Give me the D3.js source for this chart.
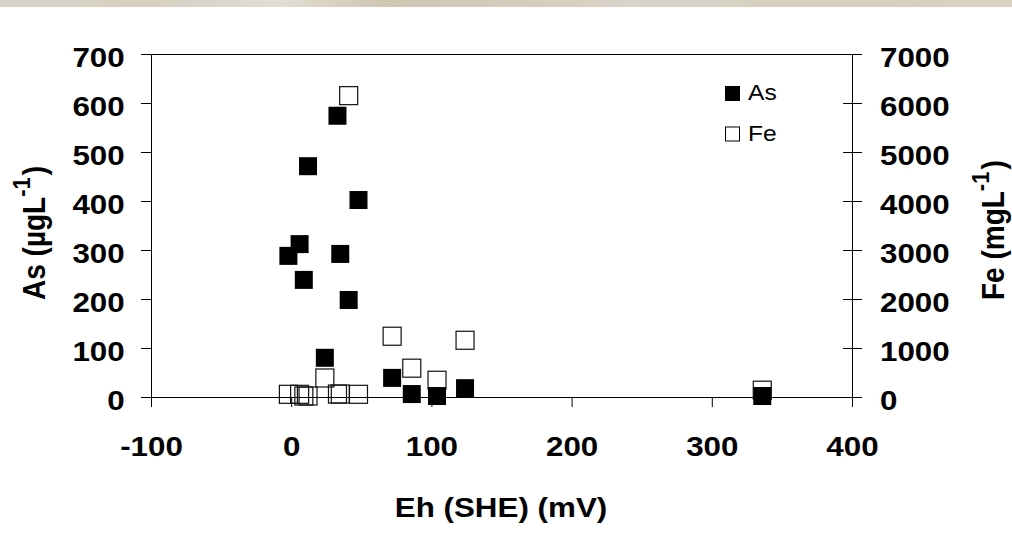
<!DOCTYPE html>
<html>
<head>
<meta charset="utf-8">
<script src="https://cdn.jsdelivr.net/npm/d3@7"></script>
<style>
  body { margin: 0; background: #fff; }
  text { font-family: 'Liberation Sans', Arial, sans-serif; fill: #000; }
</style>
</head>
<body>
<script>
// data: one sample per index
const ehValues = [-2, 6, 9, 12, 24, 33, 35, 41, 48, 72, 86, 104, 124, 336];
const asValues = [288, 312, 239, 471, 80, 574, 292, 198, 402, 39, 6, 2, 18, 2];
const feValues = [55, 55, 20, 20, 388, 60, 60, 6150, 55, 1240, 588, 342, 1158, 139];

const xTicks = [-100, 0, 100, 200, 300, 400];
const asTicks = [0, 100, 200, 300, 400, 500, 600, 700];
const feTicks = [0, 1000, 2000, 3000, 4000, 5000, 6000, 7000];
const legendItems = ['As', 'Fe'];

const width = 1012;
const height = 537;
const stretch = 1.12; // the source picture is a bit wide for its text
const markerSize = 18;

const samples = ehValues.map((eh, i) => ({ eh, as: asValues[i], fe: feValues[i] }));

const svg = d3.select('body')
    .append('svg')
    .attr('width', width)
    .attr('height', height);

// beige band at the very top
const grad = svg.append('defs')
    .append('linearGradient')
    .attr('id', 'band');
[[0, '#d9d2c6'], [0.15, '#d6cfc2'], [0.28, '#e3ddd2'], [0.38, '#cfc6b3'],
 [0.5, '#d3cbbd'], [0.62, '#dad3c7'], [0.8, '#d5cec1'], [1, '#d8d1c4']]
    .forEach(([o, c]) => grad.append('stop').attr('offset', o).attr('stop-color', c));

svg.append('rect')
    .attr('width', width)
    .attr('height', 7)
    .attr('fill', 'url(#band)');

// scales
const xScale = d3.scaleLinear().domain([-100, 400]).range([151, 852]);
const asScale = d3.scaleLinear().domain([0, 700]).range([397, 54]);
const feScale = d3.scaleLinear().domain([0, 7000]).range([397, 54]);

const plain = d => String(d); // plain hyphen, no thousands comma

function styleTicks(axis, x, y, anchor) {
    axis.selectAll('.tick line').attr('stroke', '#000');
    axis.select('.domain').attr('stroke', '#000');
    axis.selectAll('.tick text')
        .attr('x', x)
        .attr('y', y)
        .attr('dy', 0)
        .attr('transform', `scale(${stretch},1)`)
        .style('text-anchor', anchor)
        .style('font-size', '28px')
        .style('font-weight', 'bold')
        .style('font-family', "'Liberation Sans', Arial, sans-serif");
}

// axes
const xAxisDraw = svg.append('g')
    .attr('transform', 'translate(0, 397)')
    .call(d3.axisBottom(xScale).tickValues(xTicks).tickFormat(plain).tickSize(10).tickSizeOuter(0));
styleTicks(xAxisDraw, 0, 59, 'middle');

const asAxisDraw = svg.append('g')
    .attr('transform', 'translate(151, 0)')
    .call(d3.axisLeft(asScale).tickValues(asTicks).tickFormat(plain).tickSize(10).tickSizeOuter(0));
styleTicks(asAxisDraw, -23.5, 12, 'end');

const feAxisDraw = svg.append('g')
    .attr('transform', 'translate(852, 0)')
    .call(d3.axisRight(feScale).tickValues(feTicks).tickFormat(plain).tickSize(10).tickSizeOuter(0));
feAxisDraw.selectAll('.tick line').attr('x1', -9);
styleTicks(feAxisDraw, 25, 12, 'start');

// top border of the plot
svg.append('line')
    .attr('x1', xScale(-100) + 0.5)
    .attr('x2', xScale(400) + 0.5)
    .attr('y1', asScale(700) + 0.5)
    .attr('y2', asScale(700) + 0.5)
    .attr('stroke', '#000');

// points: Fe open squares, As filled squares on top
svg.append('g')
    .selectAll('rect')
    .data(samples)
    .join('rect')
    .attr('x', d => xScale(d.eh) - markerSize / 2)
    .attr('y', d => feScale(d.fe) - markerSize / 2)
    .attr('width', markerSize)
    .attr('height', markerSize)
    .attr('fill', 'none')
    .attr('stroke', '#111')
    .attr('stroke-width', 1.2);

svg.append('g')
    .selectAll('rect')
    .data(samples)
    .join('rect')
    .attr('x', d => xScale(d.eh) - markerSize / 2)
    .attr('y', d => asScale(d.as) - markerSize / 2)
    .attr('width', markerSize)
    .attr('height', markerSize)
    .attr('fill', '#000');

// legend
const legend = svg.append('g')
    .selectAll('g')
    .data(legendItems)
    .join('g')
    .attr('transform', (d, i) => `translate(725, ${86 + i * 40.5})`);

legend.append('rect')
    .attr('x', 0.5)
    .attr('y', 0.5)
    .attr('width', 14)
    .attr('height', 14)
    .attr('fill', (d, i) => i === 0 ? '#000' : '#fff')
    .attr('stroke', '#000');

legend.append('text')
    .attr('transform', `translate(23, 14) scale(${stretch},1)`)
    .style('font-size', '22px')
    .text(d => d);

// axis titles
svg.append('text')
    .attr('transform', `translate(501, 517) scale(${stretch},1)`)
    .style('text-anchor', 'middle')
    .style('font-size', '28px')
    .style('font-weight', 'bold')
    .text('Eh (SHE) (mV)');

function yTitle(x, y, main, tail) {
    const t = svg.append('text')
        .attr('transform', `translate(${x}, ${y}) scale(${stretch},1) rotate(-90)`)
        .style('text-anchor', 'start')
        .style('font-size', '28px')
        .style('font-weight', 'bold');
    t.append('tspan').text(main);
    t.append('tspan')
        .attr('dy', -13)
        .style('font-size', '22px')
        .text('-1');
    t.append('tspan')
        .attr('dy', 13)
        .attr('dx', 2)
        .text(tail);
}

yTitle(45, 300, 'As (µgL', ')');
yTitle(1004, 300, 'Fe (mgL', ')');
</script>
</body>
</html>
